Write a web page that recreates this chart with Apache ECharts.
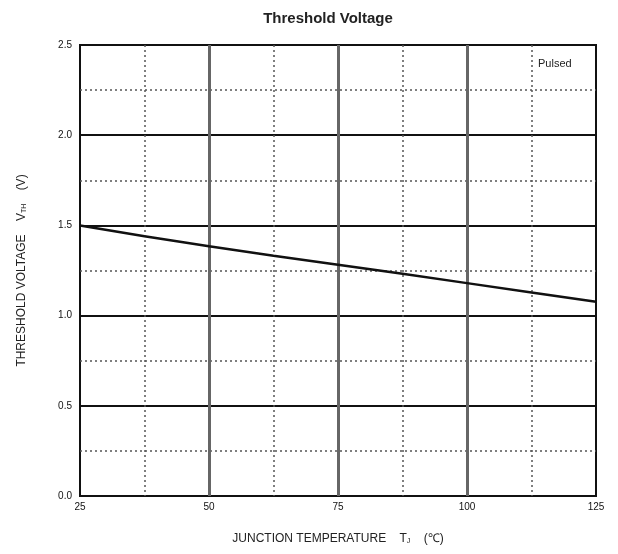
<!DOCTYPE html>
<html><head><meta charset="utf-8">
<script src="https://cdn.jsdelivr.net/npm/echarts@6/dist/echarts.min.js"></script>
<style>html,body{margin:0;padding:0;background:#fff}#c{width:618px;height:554px}</style>
</head><body><div id="c"></div>
<script>
const temps = [25, 37.5, 50, 62.5, 75, 87.5, 100, 112.5, 125];
const vth = [1.5, 1.44, 1.385, 1.332, 1.282, 1.232, 1.18, 1.128, 1.077];
const xTicks = [25, 50, 75, 100, 125];
const yTicks = ['0.0', '0.5', '1.0', '1.5', '2.0', '2.5'];

const chart = echarts.init(document.getElementById('c'));
const F = 'Liberation Sans, Arial, sans-serif';
chart.setOption({
  animation: false,
  title: { text: 'Threshold Voltage', left: 323, textAlign: 'center', top: 6,
    textStyle: { fontFamily: F, fontSize: 15, fontWeight: 'bold', color: '#222' } },
  grid: { left: 80, right: 22, top: 45, bottom: 58, show: true, borderColor: '#111', borderWidth: 2 },
  xAxis: {
    type: 'value', min: 25, max: 125, interval: 25,
    axisLine: { show: false }, axisTick: { show: false },
    axisLabel: { fontFamily: F, fontSize: 10, color: '#111', margin: 6 },
    splitLine: { show: true, showMinLine: false, showMaxLine: false, lineStyle: { color: '#666', width: 3 } },
    minorTick: { show: false, splitNumber: 2 },
    minorSplitLine: { show: true, lineStyle: { color: '#555', width: 1.5, type: [2, 3] } },
    name: '{a|JUNCTION TEMPERATURE    T}{s|J}{a|    (℃)}',
    nameLocation: 'middle', nameGap: 36,
    nameTextStyle: { rich: {
      a: { fontFamily: F, fontSize: 12, color: '#222' },
      s: { fontFamily: F, fontSize: 7, color: '#222', verticalAlign: 'bottom', padding: [6, 0, 0, 0] } } }
  },
  yAxis: {
    type: 'value', min: 0, max: 2.5, interval: 0.5,
    axisLine: { show: false }, axisTick: { show: false },
    axisLabel: { fontFamily: F, fontSize: 10, color: '#111', margin: 8,
      formatter: v => v.toFixed(1) },
    splitLine: { show: true, showMinLine: false, showMaxLine: false, lineStyle: { color: '#111', width: 2 } },
    minorTick: { show: false, splitNumber: 2 },
    minorSplitLine: { show: true, lineStyle: { color: '#555', width: 1.5, type: [2, 3] } },
    name: '{a|THRESHOLD VOLTAGE    V}{s|TH}{a|    (V)}',
    nameLocation: 'middle', nameGap: 52, nameRotate: 90,
    nameTextStyle: { rich: {
      a: { fontFamily: F, fontSize: 12, color: '#222' },
      s: { fontFamily: F, fontSize: 7, color: '#222', verticalAlign: 'bottom', padding: [6, 0, 0, 0] } } }
  },
  graphic: [{ type: 'text', left: 538, top: 58,
    style: { text: 'Pulsed', fontFamily: F, fontSize: 11, fill: '#222' } }],
  series: [{
    type: 'line', data: temps.map((t, i) => [t, vth[i]]), showSymbol: false,
    lineStyle: { color: '#111', width: 2.5 }
  }]
});
</script></body></html>
